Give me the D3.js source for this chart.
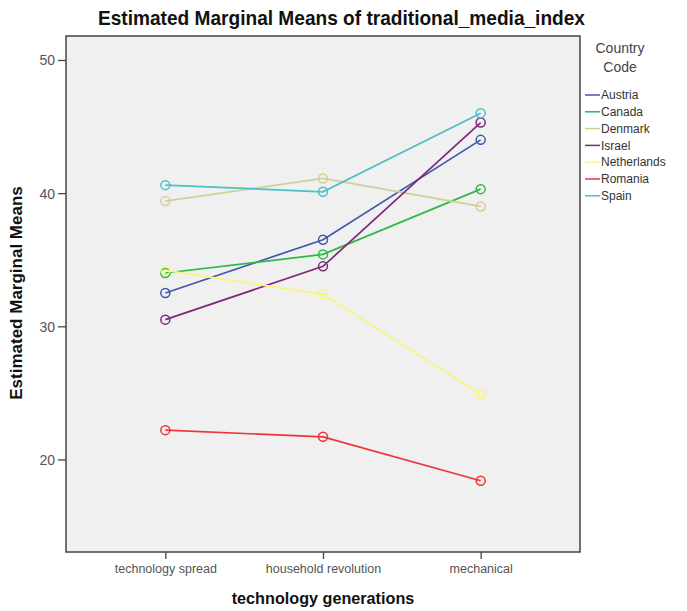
<!DOCTYPE html>
<html lang="en">
<head>
<meta charset="utf-8"/>
<style>
  body { margin: 0; background: #fff; }
  text { font-family: "Liberation Sans", Arial, sans-serif; }
</style>
<script src="https://d3js.org/d3.v7.min.js"></script>
</head>
<body>
<svg id="chart" width="687" height="611"></svg>
<script>
// categories on the x axis
let generations = ["technology spread", "household revolution", "mechanical"]
let countries = ["Austria", "Canada", "Denmark", "Israel", "Netherlands", "Romania", "Spain"]
let colors = ["#3e58ac", "#2eb848", "#d3ce97", "#7c287d", "#f8f67a", "#ef3338", "#48c2c5"]

// estimated marginal means, one array per country
let austria     = [32.5, 36.5, 44.0]
let canada      = [34.0, 35.4, 40.3]
let denmark     = [39.4, 41.1, 39.0]
let israel      = [30.5, 34.5, 45.3]
let netherlands = [34.2, 32.4, 24.9]
let romania     = [22.2, 21.7, 18.4]
let spain       = [40.6, 40.1, 46.0]
let yTicks = [20, 30, 40, 50]

let series = [austria, canada, denmark, israel, netherlands, romania, spain]

let plotL = 66, plotR = 580, plotT = 36, plotB = 552
let svg = d3.select("#chart")

let x = d3.scalePoint().domain(generations).range([plotL, plotR]).padding(0.63)
let y = d3.scaleLinear().domain([13.05, 51.8]).range([plotB, plotT])

// plot background
svg.append("rect")
   .attr("x", plotL).attr("y", plotT)
   .attr("width", plotR - plotL).attr("height", plotB - plotT)
   .attr("fill", "#f0f0f0")

// axes
let yAxis = svg.append("g")
   .attr("transform", `translate(${plotL},0)`)
   .call(d3.axisLeft(y).tickValues(yTicks).tickSize(8).tickPadding(3))
let xAxis = svg.append("g")
   .attr("transform", `translate(0,${plotB})`)
   .call(d3.axisBottom(x).tickSize(7).tickPadding(5))
yAxis.select(".domain").remove()
xAxis.select(".domain").remove()
svg.selectAll(".tick line").attr("stroke", "#444").attr("stroke-width", 1.3)
svg.selectAll(".tick text").attr("fill", "#555").attr("font-size", 12.5)
yAxis.selectAll(".tick text").attr("font-size", 14).attr("dy", "0.35em")

// frame
svg.append("rect")
   .attr("x", plotL).attr("y", plotT)
   .attr("width", plotR - plotL).attr("height", plotB - plotT)
   .attr("fill", "none").attr("stroke", "#444").attr("stroke-width", 1.5)

// lines + open markers
let line = d3.line().x((d, i) => x(generations[i])).y(d => y(d))
let groups = svg.append("g").selectAll("g")
   .data(series)
   .enter().append("g")

groups.append("path")
   .attr("d", d => line(d))
   .attr("fill", "none")
   .attr("stroke", (d, i) => colors[i])
   .attr("stroke-width", 1.7)

groups.selectAll("circle")
   .data((d, i) => d.map(v => ({v: v, c: colors[i]})))
   .enter().append("circle")
   .attr("cx", (d, j) => x(generations[j]))
   .attr("cy", d => y(d.v))
   .attr("r", 4.5)
   .attr("fill", "none")
   .attr("stroke", d => d.c)
   .attr("stroke-width", 1.5)

// titles
svg.append("text")
   .attr("x", 98).attr("y", 25)
   .attr("font-size", 20.5).attr("font-weight", "bold")
   .attr("fill", "#111")
   .attr("textLength", 487).attr("lengthAdjust", "spacingAndGlyphs")
   .text("Estimated Marginal Means of traditional_media_index")

svg.append("text")
   .attr("transform", "translate(22,293) rotate(-90)")
   .attr("text-anchor", "middle")
   .attr("font-size", 17).attr("font-weight", "bold")
   .attr("font-family", "'DejaVu Sans', sans-serif")
   .attr("fill", "#111")
   .text("Estimated Marginal Means")

svg.append("text")
   .attr("x", 323).attr("y", 604)
   .attr("text-anchor", "middle")
   .attr("font-size", 16.2).attr("font-weight", "bold")
   .attr("font-family", "'DejaVu Sans', sans-serif")
   .attr("fill", "#111")
   .text("technology generations")

// legend
let legend = svg.append("g")
legend.append("text").attr("x", 620).attr("y", 53)
   .attr("text-anchor", "middle").attr("font-size", 14).attr("fill", "#444")
   .text("Country")
legend.append("text").attr("x", 620).attr("y", 72)
   .attr("text-anchor", "middle").attr("font-size", 14).attr("fill", "#444")
   .text("Code")

let items = legend.selectAll(".item")
   .data(countries)
   .enter().append("g")
   .attr("transform", (d, i) => `translate(0,${95 + i * 16.8})`)
items.append("line")
   .attr("x1", 585).attr("x2", 600)
   .attr("stroke", (d, i) => colors[i]).attr("stroke-width", 1.5)
items.append("text")
   .attr("x", 601).attr("dy", "0.35em")
   .attr("font-size", 12).attr("fill", "#333")
   .text(d => d)
</script>
</body>
</html>
